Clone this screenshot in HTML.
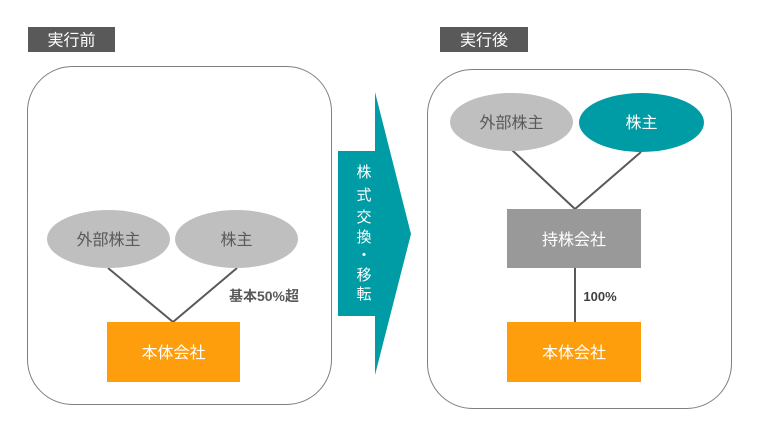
<!DOCTYPE html>
<html><head><meta charset="utf-8"><style>
body{margin:0;background:#fff;width:770px;height:438px;overflow:hidden}
svg text{font-family:"Liberation Sans","Noto Sans CJK JP",sans-serif}
</style></head><body>
<svg width="770" height="438" viewBox="0 0 770 438" xmlns="http://www.w3.org/2000/svg">
<rect x="28" y="27" width="87" height="25" fill="#595959"/>
<text x="71.5" y="45.5" font-size="16" fill="#fff" text-anchor="middle">実行前</text>
<rect x="440" y="27" width="88" height="25" fill="#595959"/>
<text x="484" y="45.5" font-size="16" fill="#fff" text-anchor="middle">実行後</text>

<rect x="27.5" y="66.5" width="304" height="338" rx="45" fill="#fff" stroke="#7f7f7f" stroke-width="1"/>
<rect x="427.5" y="69.5" width="304" height="339" rx="45" fill="#fff" stroke="#7f7f7f" stroke-width="1"/>

<line x1="108" y1="268" x2="173" y2="322" stroke="#595959" stroke-width="2"/>
<line x1="237" y1="268" x2="173" y2="322" stroke="#595959" stroke-width="2"/>
<ellipse cx="108.5" cy="239" rx="61.5" ry="29" fill="#bfbfbf"/>
<text x="108.5" y="245" font-size="16" fill="#595959" text-anchor="middle">外部株主</text>
<ellipse cx="236.5" cy="239" rx="61.5" ry="29" fill="#bfbfbf"/>
<text x="236.5" y="245" font-size="16" fill="#595959" text-anchor="middle">株主</text>
<text x="264" y="301" font-size="14" font-weight="bold" fill="#595959" text-anchor="middle">基本50%超</text>
<rect x="107" y="322" width="133" height="60" fill="#ff9e0d"/>
<text x="173.5" y="358" font-size="16" fill="#fff" text-anchor="middle">本体会社</text>

<polygon points="338,151 375,151 375,92 411,234 375,375 375,316 338,316" fill="#009ca6"/>
<g font-size="15" fill="#fff" text-anchor="middle">
<text x="364" y="177">株</text><text x="364" y="200">式</text><text x="364" y="222">交</text><text x="364" y="242">換</text><text x="364" y="260">・</text><text x="364" y="280">移</text><text x="364" y="299">転</text>
</g>

<line x1="512" y1="150" x2="575" y2="209" stroke="#595959" stroke-width="2"/>
<line x1="641" y1="152" x2="575" y2="209" stroke="#595959" stroke-width="2"/>
<line x1="575" y1="268" x2="575" y2="322" stroke="#595959" stroke-width="2"/>
<ellipse cx="511.5" cy="122" rx="61.5" ry="29" fill="#bfbfbf"/>
<text x="511.5" y="128" font-size="16" fill="#595959" text-anchor="middle">外部株主</text>
<ellipse cx="641.5" cy="122.5" rx="62.5" ry="29.5" fill="#009ca6"/>
<text x="641.5" y="128" font-size="16" fill="#fff" text-anchor="middle">株主</text>
<rect x="507" y="209" width="134" height="59" fill="#999"/>
<text x="574" y="245" font-size="16" fill="#fff" text-anchor="middle">持株会社</text>
<text x="600" y="301" font-size="13" font-weight="bold" fill="#404040" text-anchor="middle">100%</text>
<rect x="507" y="322" width="134" height="60" fill="#ff9e0d"/>
<text x="574" y="358" font-size="16" fill="#fff" text-anchor="middle">本体会社</text>
</svg>
</body></html>
